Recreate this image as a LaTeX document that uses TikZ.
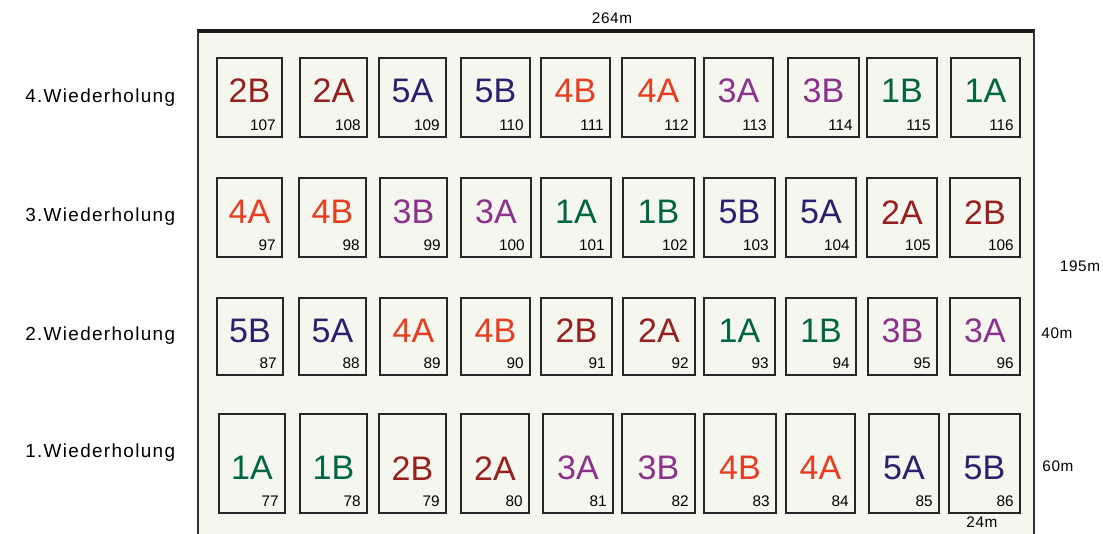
\documentclass[tikz,border=0pt]{standalone}
\usepackage{fontspec}
\setmainfont{Liberation Sans}
\usetikzlibrary{positioning}

\definecolor{fieldbg}{RGB}{245,246,238}
\definecolor{varone}{RGB}{0,102,64}
\definecolor{vartwo}{RGB}{150,32,32}
\definecolor{varthree}{RGB}{140,50,140}
\definecolor{varfour}{RGB}{232,60,32}
\definecolor{varfive}{RGB}{45,30,110}

\begin{document}
\begin{tikzpicture}[
    x=0.75pt, y=-0.75pt,
    plotbox/.style={draw=black!85, line width=1.2pt, inner sep=0pt, outer sep=0pt},
    varlabel/.style={font=\fontsize{25.5}{26}\selectfont, inner sep=0pt},
    plotnum/.style={font=\fontsize{11.5}{12}\selectfont, inner sep=0pt, anchor=south east},
    replabel/.style={font=\fontsize{14.2}{15}\selectfont\addfontfeatures{LetterSpace=7},
        anchor=west, inner sep=0pt},
    dimlabel/.style={font=\fontsize{11.5}{12}\selectfont\addfontfeatures{LetterSpace=4},
        inner sep=0pt}
]
\useasboundingbox (0,0) rectangle (1103,534);

% Field
\fill[fieldbg] (198,31) rectangle (1034,534);
\draw[line width=3pt, black!90] (197,31) -- (1035,31);
\draw[line width=1.6pt, black!80] (198,31) -- (198,534);
\draw[line width=0.9pt, black!80] (1034,31) -- (1034,534);

% 4. Wiederholung
\foreach \xl/\xr/\var/\num/\col in {
    217/282/2B/107/vartwo, 300/367/2A/108/vartwo, 379/446/5A/109/varfive,
    461/530/5B/110/varfive, 541/610/4B/111/varfour, 622/695/4A/112/varfour,
    704/773/3A/113/varthree, 788/859/3B/114/varthree, 867/937/1B/115/varone,
    951/1020/1A/116/varone} {
  \node[plotbox, minimum width={(\xr-\xl)*0.75pt}, minimum height={79*0.75pt}]
      (p\num) at ({(\xl+\xr)/2},97.5) {};
  \node[varlabel, text=\col] (v\num) at ([yshift=5pt]p\num.center) {\var};
  \node[plotnum] (n\num) at ([xshift=-4.5pt,yshift=4.5pt]p\num.south east) {\num};
}

% 3. Wiederholung
\foreach \xl/\xr/\var/\num/\col in {
    217/282/4A/97/varfour, 299/366/4B/98/varfour, 380/447/3B/99/varthree,
    461/531/3A/100/varthree, 541/611/1A/101/varone, 623/694/1B/102/varone,
    704/775/5B/103/varfive, 786/856/5A/104/varfive, 867/937/2A/105/vartwo,
    950/1020/2B/106/vartwo} {
  \node[plotbox, minimum width={(\xr-\xl)*0.75pt}, minimum height={79*0.75pt}]
      (p\num) at ({(\xl+\xr)/2},217.5) {};
  \node[varlabel, text=\col] (v\num) at ([yshift=4pt]p\num.center) {\var};
  \node[plotnum] (n\num) at ([xshift=-4.5pt,yshift=4.5pt]p\num.south east) {\num};
}

% 2. Wiederholung
\foreach \xl/\xr/\var/\num/\col in {
    217/283/5B/87/varfive, 299/366/5A/88/varfive, 380/447/4A/89/varfour,
    461/530/4B/90/varfour, 541/612/2B/91/vartwo, 623/695/2A/92/vartwo,
    704/775/1A/93/varone, 786/856/1B/94/varone, 868/937/3B/95/varthree,
    950/1020/3A/96/varthree} {
  \node[plotbox, minimum width={(\xr-\xl)*0.75pt}, minimum height={77*0.75pt}]
      (p\num) at ({(\xl+\xr)/2},336.5) {};
  \node[varlabel, text=\col] (v\num) at ([yshift=4.5pt]p\num.center) {\var};
  \node[plotnum] (n\num) at ([xshift=-4.5pt,yshift=4.5pt]p\num.south east) {\num};
}

% 1. Wiederholung
\foreach \xl/\xr/\var/\num/\col in {
    219/285/1A/77/varone, 300/367/1B/78/varone, 379/446/2B/79/vartwo,
    461/529/2A/80/vartwo, 543/613/3A/81/varthree, 622/695/3B/82/varthree,
    704/776/4B/83/varfour, 786/855/4A/84/varfour, 869/939/5A/85/varfive,
    949/1020/5B/86/varfive} {
  \node[plotbox, minimum width={(\xr-\xl)*0.75pt}, minimum height={99*0.75pt}]
      (p\num) at ({(\xl+\xr)/2},463.5) {};
  \node[varlabel, text=\col] (v\num) at ([yshift=-3.5pt]p\num.center) {\var};
  \node[plotnum] (n\num) at ([xshift=-4.5pt,yshift=4.5pt]p\num.south east) {\num};
}

% Repetitions
\node[replabel] (rep4) at (25,98) {4.Wiederholung};
\node[replabel] (rep3) at (25,217) {3.Wiederholung};
\node[replabel] (rep2) at (25,336) {2.Wiederholung};
\node[replabel] (rep1) at (25,453) {1.Wiederholung};

% Dimensions
\node[dimlabel] (dimlen) at (612,18) {264m};
\node[dimlabel] (dimwid) at (1080,266) {195m};
\node[dimlabel] (dimgap) at (1057,333) {40m};
\node[dimlabel] (dimrow) at (1058,466) {60m};
\node[dimlabel] (dimplot) at (982,522) {24m};

\end{tikzpicture}
\end{document}
